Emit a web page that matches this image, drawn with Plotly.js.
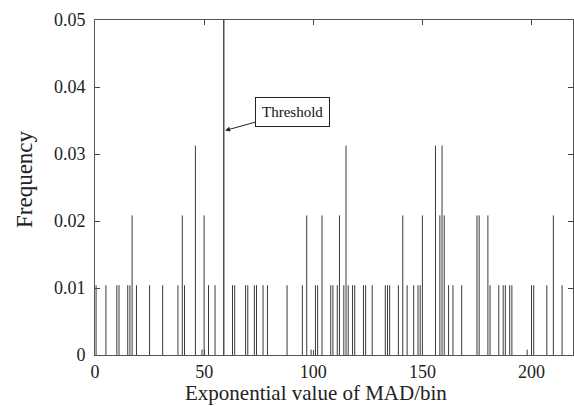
<!DOCTYPE html>
<html>
<head>
<meta charset="utf-8">
<script src="https://cdn.plot.ly/plotly-3.0.1.min.js"></script>
<style>html,body{margin:0;padding:0;background:#fff;}#chart{width:574px;height:407px;}</style>
</head>
<body>
<div id="chart"></div>
<script>
// Bin positions (exponential value of MAD/bin) and their frequencies
const binValues = [0.5, 5, 10, 11, 15, 16, 17, 19, 25, 31, 38, 40, 41, 46, 50, 52, 55,
  63, 64, 69, 70, 73, 74, 77, 79, 88, 95, 97, 101, 102, 104, 108, 109, 111, 112, 114,
  115, 116, 118, 119, 123, 124, 127, 133, 134, 135, 139, 141, 143, 146, 148, 149, 150,
  156, 158, 159, 160, 162, 164, 168, 175, 176, 180, 181, 185, 187, 188, 190, 191, 200,
  201, 207, 210, 214];
const binCounts = [1, 1, 1, 1, 1, 1, 2, 1, 1, 1, 1, 2, 1, 3, 2, 1, 1,
  1, 1, 1, 1, 1, 1, 1, 1, 1, 1, 2, 1, 1, 2, 1, 1, 1, 2, 1,
  3, 1, 1, 1, 1, 1, 1, 1, 1, 1, 1, 2, 1, 1, 1, 1, 2,
  3, 2, 3, 2, 1, 1, 1, 2, 2, 2, 1, 1, 1, 1, 1, 1, 1,
  1, 1, 2, 1];
const totalCount = 96;
// very small residual bins
const tinyBins = [49, 99, 198];
const tinyFreq = [0.0008, 0.0008, 0.0008];
// threshold
const thresholdX = 59;
const thresholdTop = 0.05;
const xTicks = [0, 50, 100, 150, 200];
const yTicks = [0, 0.01, 0.02, 0.03, 0.04, 0.05];
const yTickText = ['0', '0.01', '0.02', '0.03', '0.04', '0.05'];
const xTitle = 'Exponential value of MAD/bin';
const yTitle = 'Frequency';

const freq = binCounts.map(c => c / totalCount);
const sx = [], sy = [];
binValues.forEach((b, i) => { sx.push(b, b, null); sy.push(0, freq[i], null); });
tinyBins.forEach((b, i) => { sx.push(b, b, null); sy.push(0, tinyFreq[i], null); });

const font = 'Liberation Serif, Times New Roman, serif';
const traces = [
  {x: sx, y: sy, type: 'scatter', mode: 'lines', line: {color: '#3a3a3a', width: 1}, hoverinfo: 'skip', showlegend: false},
  {x: [thresholdX, thresholdX], y: [0, thresholdTop], type: 'scatter', mode: 'lines', line: {color: '#333', width: 1.3}, showlegend: false}
];
const layout = {
  width: 574, height: 407,
  margin: {l: 95, r: 1, t: 20, b: 52},
  paper_bgcolor: '#fff', plot_bgcolor: '#fff',
  font: {family: font, size: 18, color: '#222'},
  showlegend: false,
  xaxis: {
    range: [0, 219], tickvals: xTicks, ticks: 'inside', ticklen: 5, tickcolor: '#444',
    showline: true, linecolor: '#555', linewidth: 1, mirror: 'ticks', showgrid: false, zeroline: false,
    tickfont: {family: font, size: 18, color: '#222'}
  },
  yaxis: {
    range: [0, 0.05], tickvals: yTicks, ticktext: yTickText,
    ticks: 'inside', ticklen: 5, tickcolor: '#444', ticklabelstandoff: 5,
    showline: true, linecolor: '#555', linewidth: 1, mirror: 'ticks', showgrid: false, zeroline: false,
    tickfont: {family: font, size: 18, color: '#222'}
  },
  annotations: [
    {
      x: thresholdX + 0.6, y: 0.0335, xref: 'x', yref: 'y',
      ax: 90.5, ay: 0.0363, axref: 'x', ayref: 'y',
      text: 'Threshold', showarrow: true, arrowhead: 2, arrowsize: 1, arrowwidth: 1, arrowcolor: '#222',
      font: {family: font, size: 15, color: '#111'},
      bordercolor: '#222', borderwidth: 1, borderpad: 6, bgcolor: '#fff'
    },
    {
      text: xTitle, showarrow: false, xref: 'paper', yref: 'paper',
      x: (316 - 95) / 478, y: -(393.5 - 355) / 335, xanchor: 'center', yanchor: 'middle',
      borderpad: 0, font: {family: font, size: 21, color: '#222'}
    },
    {
      text: yTitle, showarrow: false, xref: 'paper', yref: 'paper', textangle: -90,
      x: (24 - 95) / 478, y: (355 - 179) / 335, xanchor: 'center', yanchor: 'middle',
      font: {family: font, size: 23, color: '#222'}
    }
  ]
};
Plotly.newPlot('chart', traces, layout, {staticPlot: true, displayModeBar: false});
</script>
</body>
</html>
